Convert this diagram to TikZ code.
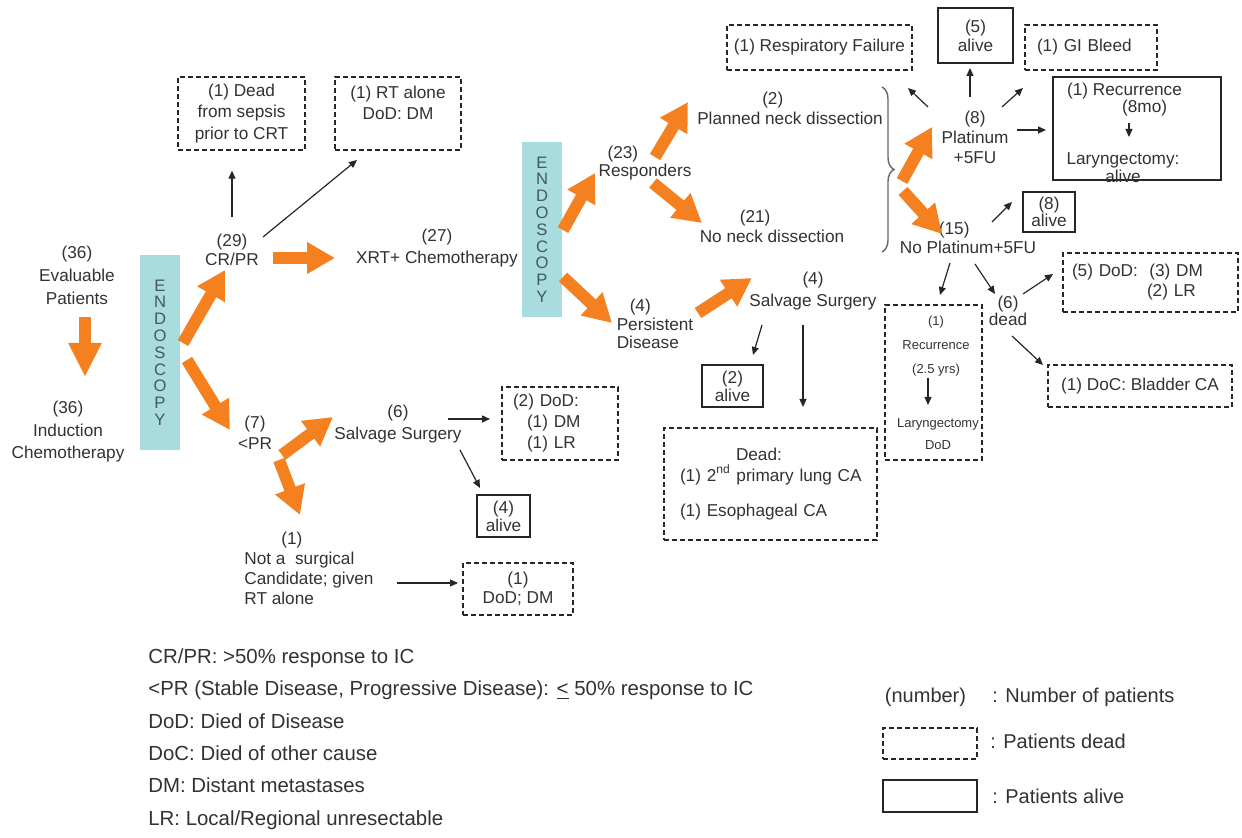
\documentclass[tikz,border=0pt]{standalone}
\usepackage{fontspec}
\setmainfont{Liberation Sans}
\usepackage{tikz}
\usetikzlibrary{arrows.meta,calc,decorations.pathreplacing}
\definecolor{orng}{RGB}{244,128,32}
\definecolor{endoteal}{RGB}{168,220,222}
\definecolor{endotxt}{RGB}{70,88,92}
\definecolor{txtgray}{RGB}{50,50,50}
\newcommand{\fsz}[1]{\fontsize{8.6}{#1}\selectfont}

\begin{document}
\begin{tikzpicture}[x=0.5pt, y=-0.5pt,
    every node/.style={font=\fsz{11}, text=txtgray, align=center, inner sep=0pt},
    deadbox/.style={draw=black!85, line width=0.7pt, dash pattern=on 2.5pt off 1.5pt},
    alivebox/.style={draw=black!85, line width=0.8pt},
    bigarrow/.style={draw=orng, line width=6pt, -{Triangle[length=14pt,width=15pt]}},
    thinarrow/.style={draw=black!85, line width=0.6pt, -{Triangle[length=4pt,width=3.5pt]}},
    endobar/.style={fill=endoteal, minimum width=20pt, text=endotxt, font=\fontsize{8.3}{8.4}\selectfont}]
    \useasboundingbox (0,0) rectangle (1242,838);

    \node[font=\fsz{11.5}] (evp) at (77,275) {(36)\\Evaluable\\Patients};
    \node[font=\fsz{11.25}] (induc) at (68,432) {(36)\\Induction\\Chemotherapy};
    \node[endobar, minimum height=97.5pt] (endoA) at (160,352.5) {E\\N\\D\\O\\S\\C\\O\\P\\Y};
    \node[font=\fsz{9.5}] (crpr) at (232,250) {(29)\\CR/PR};
    \node[deadbox, minimum width=63.5pt, minimum height=36.5pt, font=\fsz{10.75}] (sepsis) at (241.5,113.5) {(1) Dead\\from sepsis\\prior to CRT};
    \node[deadbox, minimum width=63pt, minimum height=36.5pt, font=\fsz{10.5}] (rtalone) at (398,113.5) {(1) RT alone\\DoD: DM\\~};
    \node (xrt) at (437,248) {(27)\\XRT+ Chemotherapy};
    \node[endobar, minimum height=87.5pt] (endoB) at (542,229.5) {E\\N\\D\\O\\S\\C\\O\\P\\Y};
    \node[font=\fsz{8}, align=left] (resp) at (645,163) {\hspace*{4.5pt}(23)\\Responders};
    \node[font=\fsz{10}, align=left] (pnd) at (790,108) {\hspace*{32.5pt}(2)\\Planned neck dissection};
    \node[font=\fsz{10}, align=left] (nnd) at (772,226) {\hspace*{20pt}(21)\\No neck dissection};
    \node[font=\fsz{9.25}, align=left] (persist) at (655,324) {\hspace*{6.5pt}(4)\\Persistent\\Disease};
    \node (salvA) at (813,291) {(4)\\Salvage Surgery};
    \node[alivebox, minimum width=30.5pt, minimum height=21pt, font=\fsz{8}] (aliveB) at (732.5,386) {(2)\\alive};
    \node[deadbox, minimum width=106.5pt, minimum height=56pt, inner xsep=5pt, text width=96.5pt, align=left, font=\fsz{10.5}] (deadE) at (770.5,484) {\hspace*{31pt}Dead:\\\hspace*{3pt}(1) 2\textsuperscript{nd} primary lung CA\\[7pt]\hspace*{3pt}(1) Esophageal CA};

    \draw[black!60, line width=0.7pt, decorate, decoration={brace, amplitude=6pt}] (882,87) -- (882,252);
    \coordinate (brtip) at (894,170);
    \node[font=\fsz{10}] (plat) at (975,137) {(8)\\Platinum\\+5FU};
    \node[font=\fsz{9.5}, align=left] (noplat) at (968,238) {\hspace*{19.5pt}(15)\\No Platinum+5FU};
    \node[font=\fsz{8.5}] (deadF) at (1008,311) {(6)\\dead};
    \node[deadbox, minimum width=92.5pt, minimum height=22.5pt] (respfail) at (819.5,47.5) {(1) Respiratory Failure};
    \node[alivebox, minimum width=37.5pt, minimum height=27.5pt, font=\fsz{9.5}] (aliveC) at (975.5,35.5) {(5)\\alive};
    \node[deadbox, minimum height=22.5pt, inner xsep=6pt, text width=54pt, align=left] (gibleed) at (1091,47.5) {(1) GI Bleed};
    \node[alivebox, minimum width=84pt, minimum height=51.5pt] (recurC) at (1137,128.5) {};
    \node[font=\fsz{8.5}, align=left] (recCa) at (1124.5,99.5) {(1) Recurrence\\\hspace*{27.5pt}(8mo)};
    \node[font=\fsz{7.5}] (recCb) at (1123,167.5) {Laryngectomy:\\alive};
    \node[alivebox, minimum width=26pt, minimum height=20pt, font=\fsz{8.5}] (aliveD) at (1049,212) {(8)\\alive};
    \node[deadbox, minimum height=29.5pt, inner xsep=4.5pt, text width=78.5pt, align=left, font=\fsz{10}] (dodF) at (1150.5,282.5) {(5) DoD:\ \ (3) DM\\\hspace*{37.5pt}(2) LR};
    \node[deadbox, minimum width=92pt, minimum height=21pt] (bladder) at (1140,386) {(1) DoC: Bladder CA};
    \node[deadbox, minimum width=48.5pt, minimum height=77.5pt] (recurF) at (933.5,382.5) {};
    \node[font=\fontsize{6.5}{12}\selectfont] (recFa) at (936,346) {(1)\\Recurrence\\(2.5 yrs)};
    \node[font=\fontsize{6.5}{11}\selectfont] (recFb) at (938,434) {Laryngectomy\\DoD};

    \node[font=\fsz{10.5}] (lowpr) at (255,433) {(7)\\<PR};
    \node (salvB) at (398,424) {(6)\\Salvage Surgery};
    \node[deadbox, minimum height=36.5pt, inner xsep=5.5pt, text width=47pt, align=left, font=\fsz{10.5}] (dodB) at (560,423.5) {(2) DoD:\\\hspace*{7pt}(1) DM\\\hspace*{7pt}(1) LR};
    \node[alivebox, minimum width=26.5pt, minimum height=21pt, font=\fsz{8}] (aliveA) at (503.5,516) {(4)\\alive};
    \node[font=\fsz{10}, align=left] (notsurg) at (309,568.5) {\hspace*{18.5pt}(1)\\Not a\ \ surgical\\Candidate; given\\RT alone};
    \node[deadbox, minimum width=55pt, minimum height=26pt, font=\fsz{9.5}] (dodA) at (518,589) {(1)\\DoD; DM};

    \draw[bigarrow, -{Triangle[length=17pt,width=15.5pt]}] ($(evp)+(8,42)$) -- ($(induc)+(17,-55)$);
    \draw[bigarrow] ($(endoA)+(23,-9.5)$) -- ($(crpr)+(-7,20)$);
    \draw[bigarrow] ($(endoA)+(27,7.5)$) -- ($(lowpr)+(-25,-3)$);
    \draw[bigarrow] ($(crpr)+(41,8)$) -- ($(xrt)+(-102,10)$);
    \draw[bigarrow] ($(endoB)+(21,0.5)$) -- ($(resp)+(-50,10)$);
    \draw[bigarrow] ($(endoB)+(21,47.5)$) -- ($(persist)+(-43,-1)$);
    \draw[bigarrow] ($(resp)+(10,-6)$) -- ($(pnd)+(-102,-6)$);
    \draw[bigarrow] ($(resp)+(8,20)$) -- ($(nnd)+(-70,-3)$);
    \draw[bigarrow] ($(persist)+(43,-11)$) -- ($(salvA)+(-61,-13)$);
    \draw[bigarrow] ($(brtip)+(8,11)$) -- ($(plat)+(-43,-10)$);
    \draw[bigarrow] ($(brtip)+(9,21)$) -- ($(noplat)+(-26,-4)$);
    \draw[bigarrow] ($(lowpr)+(27,22)$) -- ($(salvB)+(-65,-7)$);
    \draw[bigarrow] ($(lowpr)+(24,27)$) -- ($(notsurg)+(-9,-53.5)$);

    \draw[thinarrow] ($(crpr)+(0,-33)$) -- ($(sepsis.south)+(-9.5,20)$);
    \draw[thinarrow] ($(crpr)+(31,-13)$) -- ($(rtalone)+(-41,46.5)$);
    \draw[thinarrow] ($(plat)+(-47,-30)$) -- ($(respfail)+(88.5,40.5)$);
    \draw[thinarrow] ($(plat)+(-5,-40)$) -- ($(aliveC)+(-5.5,32.5)$);
    \draw[thinarrow] ($(plat)+(27,-30)$) -- ($(gibleed)+(-68,40.5)$);
    \draw[thinarrow] ($(plat)+(42,-7)$) -- ($(recurC)+(-91,1.5)$);
    \draw[thinarrow] ($(recCa)+(4.5,23.5)$) -- ($(recCb)+(6,-30.5)$);
    \draw[thinarrow] ($(noplat)+(24,-16)$) -- ($(aliveD)+(-37,-10)$);
    \draw[thinarrow] ($(noplat)+(-18,25)$) -- ($(recurF)+(6.5,-87.5)$);
    \draw[thinarrow] ($(noplat)+(7,26)$) -- ($(deadF)+(-13,-17)$);
    \draw[thinarrow] ($(deadF)+(15,-17)$) -- ($(dodF)+(-97.5,-8.5)$);
    \draw[thinarrow] ($(deadF)+(4,25)$) -- ($(bladder)+(-97,-21)$);
    \draw[thinarrow] ($(recFa)+(-8,32)$) -- ($(recFb)+(-10,-29)$);
    \draw[thinarrow] ($(salvA)+(-51,34)$) -- ($(aliveB)+(20.5,-31)$);
    \draw[thinarrow] ($(salvA)+(-10,34)$) -- ($(deadE)+(32.5,-77)$);
    \draw[thinarrow] ($(salvB)+(50,-5)$) -- ($(dodB)+(-70,-4.5)$);
    \draw[thinarrow] ($(salvB)+(62,26)$) -- ($(aliveA)+(-23.5,-28)$);
    \draw[thinarrow] ($(notsurg)+(88,14.5)$) -- ($(dodA)+(-60,-6)$);

    \node[font=\fontsize{10.2}{16.2}\selectfont, align=left, anchor=west] (legend) at (148,739) {CR/PR: >50\% response to IC\\<PR (Stable Disease, Progressive Disease): \underline{<} 50\% response to IC\\DoD: Died of Disease\\DoC: Died of other cause\\DM: Distant metastases\\LR: Local/Regional unresectable};
    \node[font=\fontsize{10}{12}\selectfont] (legnum) at (925.5,697) {(number)};
    \node[font=\fontsize{10}{12}\selectfont, anchor=west] (legnumtxt) at (992,697) {: Number of patients};
    \node[deadbox, minimum width=47pt, minimum height=15.5pt] (legdead) at (930,743.5) {};
    \node[font=\fontsize{10}{12}\selectfont, anchor=west] (legdeadtxt) at (990,741) {: Patients dead};
    \node[alivebox, minimum width=47pt, minimum height=16pt] (legalive) at (930,796) {};
    \node[font=\fontsize{10}{12}\selectfont, anchor=west] (legalivetxt) at (992,796) {: Patients alive};
\end{tikzpicture}
\end{document}
